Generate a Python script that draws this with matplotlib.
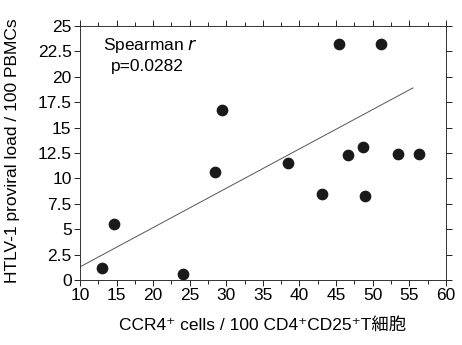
import numpy as np
import matplotlib
matplotlib.use('Agg')
import matplotlib.pyplot as plt
from matplotlib.ticker import MultipleLocator

plt.rcParams['font.family'] = ['Liberation Sans', 'Noto Sans CJK JP', 'DejaVu Sans']

# CCR4+ cells / 100 CD4+CD25+ T cells vs proviral load
ccr4 = [13.0, 14.6, 24.1, 28.5, 29.4, 38.5, 43.1, 45.4, 46.6, 48.7, 49.0, 51.1, 53.5, 56.3]
load = [1.15, 5.5, 0.6, 10.6, 16.7, 11.5, 8.45, 23.2, 12.3, 13.1, 8.3, 23.2, 12.4, 12.4]

# regression line
fit_x = [10, 55.5]
fit_y = [1.3, 18.9]

xticks = [10, 15, 20, 25, 30, 35, 40, 45, 50, 55, 60]
yticks = [0, 2.5, 5, 7.5, 10, 12.5, 15, 17.5, 20, 22.5, 25]

fig = plt.figure(figsize=(4.62, 3.45), dpi=100)
ax = fig.add_axes([0.173, 0.188, 0.792, 0.737])

ax.scatter(ccr4, load, s=55, color='#1a1a1a', zorder=3)
ax.plot(fit_x, fit_y, color='#555555', lw=0.7)

ax.set_xlim(10, 60)
ax.set_ylim(0, 25)
ax.set_xticks(xticks)
ax.set_yticks(yticks)
ax.set_yticklabels(['0', '2.5', '5', '7.5', '10', '12.5', '15', '17.5', '20', '22.5', '25'])
ax.xaxis.set_minor_locator(MultipleLocator(2.5))
ax.tick_params(axis='both', which='both', direction='out', length=3, width=0.6,
               labelsize=12.5, top=True, right=True, pad=2)
ax.tick_params(axis='both', which='major', length=4)
for sp in ax.spines.values():
    sp.set_linewidth(0.7)
    sp.set_color('#333333')

ax.set_xlabel('CCR4\u207a cells / 100 CD4\u207aCD25\u207aT細胞', fontsize=12.5, labelpad=10)
ax.set_ylabel('HTLV-1 proviral load / 100 PBMCs', fontsize=12.5)
ax.yaxis.set_label_coords(-0.165, 0.51)

ax.text(13.1, 23.1, 'Spearman $\\it{r}$', fontsize=12.5, ha='left', va='center')
ax.text(14.3, 21.0, 'p=0.0282', fontsize=12.5, ha='left', va='center')

fig.savefig('out.png', dpi=100)
